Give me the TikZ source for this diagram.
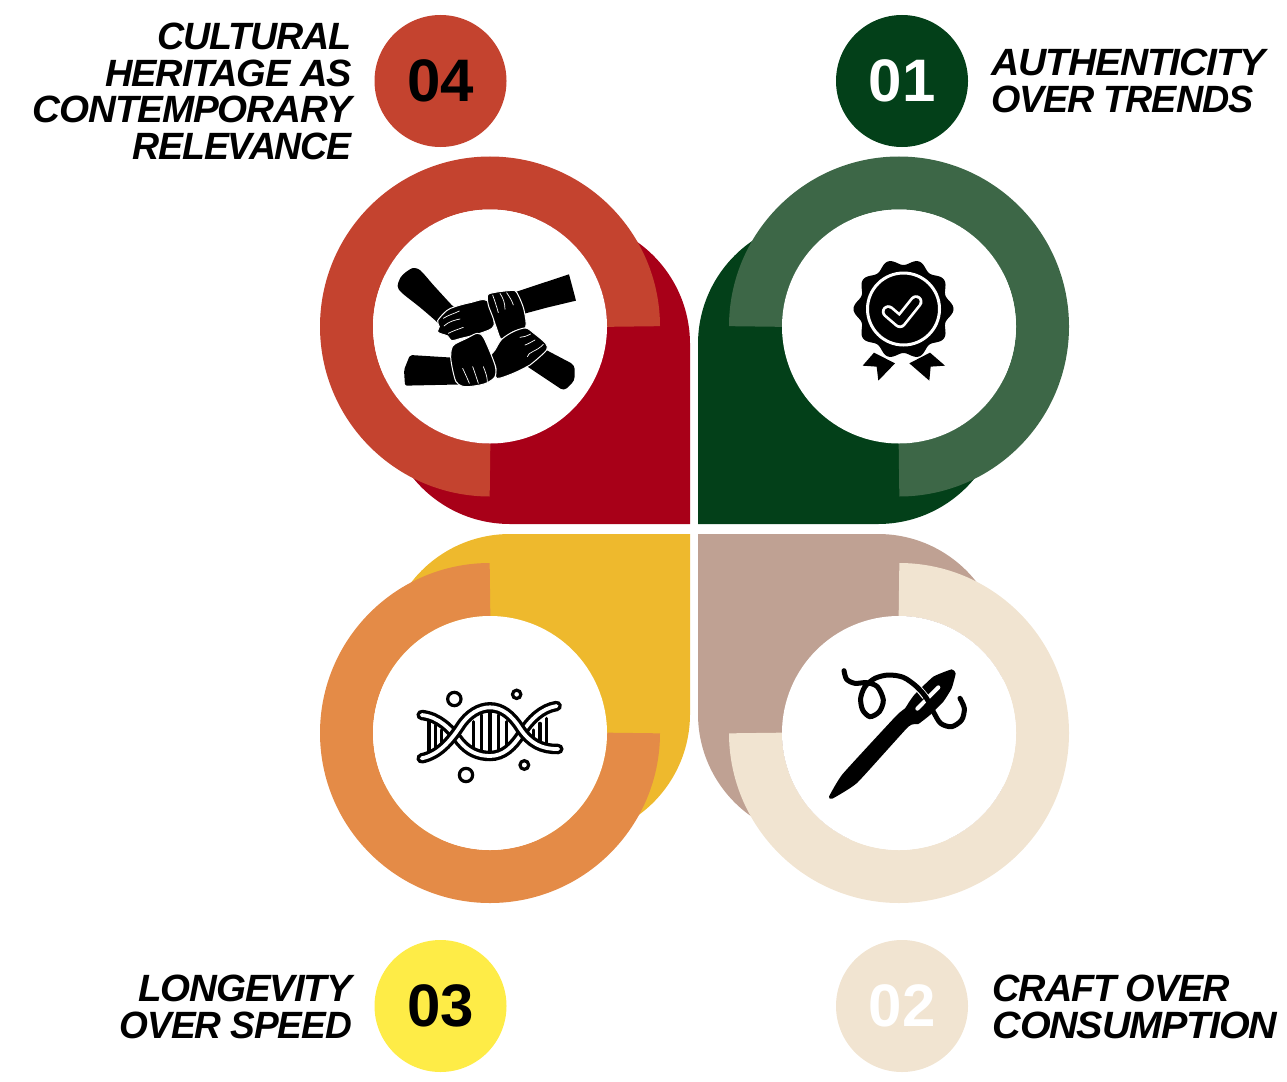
\documentclass[tikz,border=0pt]{standalone}
\usepackage{fontspec}
\setmainfont{Liberation Sans}
\newfontfamily\lblfont[LetterSpace=-3.0]{Liberation Sans}
\definecolor{redpetal}{HTML}{A80018}
\definecolor{redring}{HTML}{C4432F}
\definecolor{greenpetal}{HTML}{034019}
\definecolor{greenring}{HTML}{3D6747}
\definecolor{yellowpetal}{HTML}{EEB92D}
\definecolor{orangering}{HTML}{E48B47}
\definecolor{tanpetal}{HTML}{BFA193}
\definecolor{beigering}{HTML}{F1E4D1}
\definecolor{badgeyellow}{HTML}{FEEC47}
\newcommand{\sx}[2]{\scalebox{#1}[1]{#2}}
\newcommand{\petalshape}[1]{\fill[#1] (690,524) -- (510,524) arc[start angle=90,end angle=180,radius=125] -- (385,219) -- (565,219) arc[start angle=270,end angle=360,radius=125] -- cycle;}
\tikzset{
  ringarc/.style={line width=53pt,draw=#1},
  hole/.style={circle,fill=white,minimum size=234pt,inner sep=0pt},
  badge/.style={circle,fill=#1,minimum size=132pt,inner sep=0pt,font=\fontsize{60}{60}\selectfont\bfseries},
  lbl/.style={inner sep=0pt,font=\fontsize{38}{36.5}\selectfont\lblfont\bfseries\itshape},
  lblr/.style={lbl,anchor=north east,align=right},
  lbll/.style={lbl,anchor=north west,align=left},
  hand/.style={fill=black,draw=white,line width=1pt,line join=round},
  crease/.style={draw=white,line width=0.7pt,line cap=round},
}
\begin{document}
\begin{tikzpicture}[x=1pt,y=-1pt]
\useasboundingbox (0,0) rectangle (1287,1081);
% petals
\petalshape{redpetal}
\begin{scope}[xshift=1388pt,xscale=-1]\petalshape{greenpetal}\end{scope}
\begin{scope}[yshift=-1058pt,yscale=-1]\petalshape{yellowpetal}\end{scope}
\begin{scope}[xshift=1388pt,xscale=-1,yshift=-1058pt,yscale=-1]\petalshape{tanpetal}\end{scope}
% rings
\draw[ringarc=redring] (490,326.5) ++(90:143.5) arc[start angle=90,end angle=360,radius=143.5];
\draw[ringarc=greenring] (899,326.5) ++(180:143.5) arc[start angle=180,end angle=450,radius=143.5];
\draw[ringarc=orangering] (490,733) ++(0:143.5) arc[start angle=0,end angle=270,radius=143.5];
\draw[ringarc=beigering] (899,733) ++(270:143.5) arc[start angle=270,end angle=540,radius=143.5];
\node[hole] (hole4) at (490,326.5) {};
\node[hole] (hole1) at (899,326.5) {};
\node[hole] (hole3) at (490,733) {};
\node[hole] (hole2) at (899,733) {};
% badges
\node[badge=redring,text=black] (b4) at (440.5,81) {04};
\node[badge=greenpetal,text=white] (b1) at (902,81) {01};
\node[badge=badgeyellow,text=black] (b3) at (440.5,1006) {03};
\node[badge=beigering,text=white] (b2) at (902,1006) {02};
% labels
\node[lblr] (l4) at (352,23) {\sx{.99}{CULTURAL}\\HERITAGE AS\\\sx{1.016}{CONTEMPORARY}\\\sx{.986}{RELEVANCE}};
\node[lbll] (l1) at (991,49) {\sx{1.03}{AUTHENTICITY}\\\sx{.992}{OVER TRENDS}};
\node[lblr] (l3) at (352,975) {\sx{1.014}{LONGEVITY}\\\sx{.975}{OVER SPEED}};
\node[lbll] (l2) at (992.5,975) {\sx{.996}{CRAFT OVER}\\\sx{1.04}{CONSUMPTION}};
% hands icon
\begin{scope}[shift={(380,250)},x=0.3333pt,y=-0.3333pt]
\fill[black,line join=round] plot[smooth cycle] coordinates {(53,108) (62,82) (78,66) (100,54) (122,62) (160,105) (215,165) (240,190) (195,240) (170,215) (120,172) (65,128)};
\fill[black] (380,135) -- (470,105) -- (567,73) -- (577,110) -- (588,152) -- (500,173) -- (400,200) -- cycle;
\fill[black,rounded corners=4pt] (470,285) -- (584,345) -- (584,392) -- (552,423) -- (420,335) -- cycle;
\fill[black,rounded corners=2pt] (90,315) -- (250,325) -- (260,403) -- (75,407) -- (72,360) -- cycle;
\path[hand] plot[smooth cycle,tension=0.5] coordinates {(322,152) (270,158) (225,170) (200,182) (173,212) (178,230) (172,245) (185,252) (203,258) (215,272) (240,266) (300,250) (342,226)};
\path[hand] plot[smooth cycle,tension=0.5] coordinates {(323,135) (345,127) (385,122) (405,122) (417,140) (432,180) (437,232) (400,245) (365,268) (350,235) (338,200) (325,165)};
\path[hand] plot[smooth cycle,tension=0.5] coordinates {(330,322) (345,300) (365,268) (400,245) (437,234) (462,250) (497,280) (500,300) (465,333) (450,345) (400,370) (350,385) (347,350)};
\path[hand] plot[smooth cycle,tension=0.5] coordinates {(212,322) (215,295) (225,282) (260,265) (292,250) (312,265) (345,345) (345,380) (322,398) (300,405) (265,410) (245,408) (228,395) (218,360)};
\draw[crease] (190,205) .. controls (205,195) and (225,190) .. (238,183);
\draw[crease] (192,228) .. controls (205,215) and (225,210) .. (240,207);
\draw[crease] (205,250) .. controls (220,242) and (235,238) .. (250,232);
\draw[crease] (338,135) .. controls (345,155) and (350,170) .. (355,188);
\draw[crease] (360,130) .. controls (370,145) and (375,160) .. (375,178);
\draw[crease] (380,128) .. controls (388,140) and (395,150) .. (400,165);
\draw[crease] (420,262) .. controls (430,262) and (440,258) .. (452,252);
\draw[crease] (435,285) .. controls (445,282) and (455,275) .. (465,270);
\draw[crease] (442,320) .. controls (445,305) and (470,305) .. (490,283);
\draw[crease] (248,355) .. controls (255,370) and (262,385) .. (268,400);
\draw[crease] (278,350) .. controls (285,368) and (290,385) .. (295,400);
\draw[crease] (310,350) .. controls (316,365) and (322,380) .. (322,395);
\end{scope}
% rosette icon
\fill[black] plot[domain=0:358,samples=180] ({903.5+(47+3*cos(10*\x))*cos(\x)},{309+(47+3*cos(10*\x))*sin(\x)}) -- cycle;
\draw[white,line width=3pt] (903.5,309) circle[radius=36pt];
\draw[white,line width=13pt,line cap=round,line join=round] (888.3,311.7) -- (900,321.7) -- (916,301.7);
\draw[black,line width=7.5pt,line cap=round,line join=round] (888.3,311.7) -- (900,321.7) -- (916,301.7);
\begin{scope}[shift={(840,250)},x=0.3333pt,y=-0.3333pt]
\fill[black] (102,308) -- (165,340) -- (115,392) -- (110,350) -- (68,347) -- cycle;
\fill[black] (270,308) -- (208,340) -- (268,392) -- (272,350) -- (315,347) -- cycle;
\end{scope}
% dna icon
\begin{scope}[shift={(405,680)},x=0.3333pt,y=-0.3333pt]
\draw[black,line width=3.2pt,line cap=round] (72,125)--(72,215) (92,135)--(92,205) (110,150)--(110,190)
 (205,125)--(205,200) (230,105)--(230,215) (255,95)--(255,220) (280,105)--(280,215) (305,125)--(305,195)
 (385,150)--(385,190) (405,130)--(405,200) (425,115)--(425,205);
\draw[black,line width=3.2pt] (148,57) circle[radius=20] (335,43) circle[radius=12.5] (358,255) circle[radius=13] (183,285) circle[radius=20];
\def\strandA{(50,235) .. controls (100,225) and (135,185) .. (165,140) .. controls (190,100) and (225,82) .. (255,82) .. controls (290,82) and (320,105) .. (345,145) .. controls (375,190) and (410,208) .. (460,207)}
\def\strandB{(50,105) .. controls (100,110) and (135,145) .. (165,185) .. controls (190,215) and (220,228) .. (255,228) .. controls (295,228) and (325,200) .. (350,160) .. controls (375,120) and (410,85) .. (455,78)}
\draw[black,line width=10.5pt,line cap=round] \strandB;
\draw[white,line width=3.8pt,line cap=round] \strandB;
\draw[black,line width=10.5pt,line cap=round] \strandA;
\draw[white,line width=3.8pt,line cap=round] \strandA;
\end{scope}
% needle icon
\begin{scope}[shift={(820,660)},x=0.3333pt,y=-0.3333pt]
\fill[black,line join=round] plot[smooth cycle,tension=0.25] coordinates {(27,410) (68,342) (228,168) (255,145) (268,125) (285,102) (340,50) (395,28) (407,40) (395,85) (370,125) (330,165) (295,192) (265,200) (112,368) (37,416)};
\draw[white,line width=7pt] plot[smooth] coordinates {(255,55) (290,80) (316,110)};
\draw[white,line width=4pt,line cap=round] (292,146) -- (355,82);
\draw[black,line width=5pt,line cap=round] plot[smooth] coordinates {(72,32) (80,58) (105,70) (140,68) (172,80) (190,120) (178,155) (150,170) (128,150) (122,115) (135,80) (165,55) (205,45) (250,52) (290,80) (320,115) (340,155) (362,190) (395,200) (425,180) (433,145) (420,115)};
\end{scope}
\end{tikzpicture}
\end{document}
